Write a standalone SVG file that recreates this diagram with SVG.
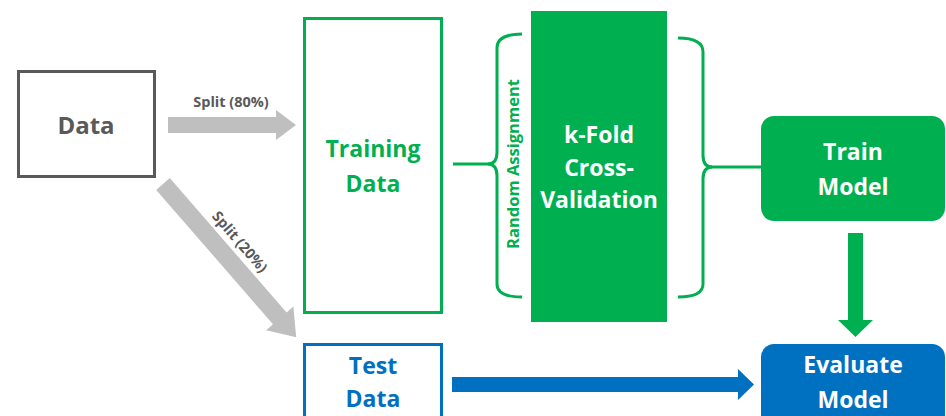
<svg xmlns="http://www.w3.org/2000/svg" width="946" height="416" viewBox="0 0 946 416">
<style>
text{font-family:"Open Sans","Liberation Sans",sans-serif;font-weight:bold;text-anchor:middle}
.big{font-size:23px}
.small{font-size:14.5px;fill:#595959}
.g{fill:#00b050}
.b{fill:#0070c0}
.w{fill:#ffffff}
.brace{fill:none;stroke:#00b050;stroke-width:3}
</style>
<rect width="946" height="416" fill="#ffffff"/>
<g id="connectors">
  <polygon points="168,117 276,117 276,110 296,125 276,140 276,133 168,133" fill="#bfbfbf"/>
  <text class="small" x="231" y="107">Split (80%)</text>
  <g transform="translate(163,184) rotate(49)">
    <polygon points="0,-9 178,-9 178,-18 203,0 178,18 178,9 0,9" fill="#bfbfbf"/>
    <text class="small" x="94" y="-15">Split (20%)</text>
  </g>
  <line x1="453" y1="164" x2="489" y2="164" stroke="#00b050" stroke-width="3"/>
  <path class="brace" d="M522,34 Q497,34 497,48 L497,152 Q497,164 488,164 Q497,164 497,176 L497,284 Q497,297 522,297"/>
  <text class="g" font-size="16.5" transform="translate(519,164) rotate(-90)">Random Assignment</text>
  <path class="brace" d="M678,38 Q703,38 703,52 L703,155 Q703,167 712,167 Q703,167 703,179 L703,284 Q703,297 678,297"/>
  <line x1="711" y1="167" x2="762" y2="167" stroke="#00b050" stroke-width="3"/>
  <polygon points="848,233 863,233 863,320 873,320 855.5,337 838,320 848,320" fill="#00b050"/>
  <polygon points="452,377 738,377 738,369 754,384.5 738,400 738,392 452,392" fill="#0070c0"/>
</g>
<g id="data">
  <rect x="18.5" y="71.5" width="136" height="105" fill="#ffffff" stroke="#595959" stroke-width="3"/>
  <text x="86" y="134" font-size="24" fill="#595959">Data</text>
</g>
<g id="training">
  <rect x="304.5" y="18.5" width="137" height="294" fill="#ffffff" stroke="#00b050" stroke-width="3"/>
  <text class="big g" x="373" y="157">Training</text>
  <text class="big g" x="373" y="192">Data</text>
</g>
<g id="kfold">
  <rect x="531" y="11" width="136" height="311" fill="#00b050"/>
  <text class="big w" x="599" y="143">k-Fold</text>
  <text class="big w" x="599" y="176">Cross-</text>
  <text class="big w" x="599" y="208">Validation</text>
</g>
<g id="train-model">
  <rect x="761" y="116" width="184" height="105" rx="13" fill="#00b050"/>
  <text class="big w" x="853" y="160">Train</text>
  <text class="big w" x="853" y="195">Model</text>
</g>
<g id="test">
  <rect x="304.5" y="344.5" width="137" height="90" fill="#ffffff" stroke="#0070c0" stroke-width="3"/>
  <text class="big b" x="373" y="374">Test</text>
  <text class="big b" x="373" y="407">Data</text>
</g>
<g id="evaluate">
  <rect x="761" y="344" width="184" height="95" rx="13" fill="#0070c0"/>
  <text class="big w" x="853" y="373">Evaluate</text>
  <text class="big w" x="853" y="408">Model</text>
</g>
</svg>
